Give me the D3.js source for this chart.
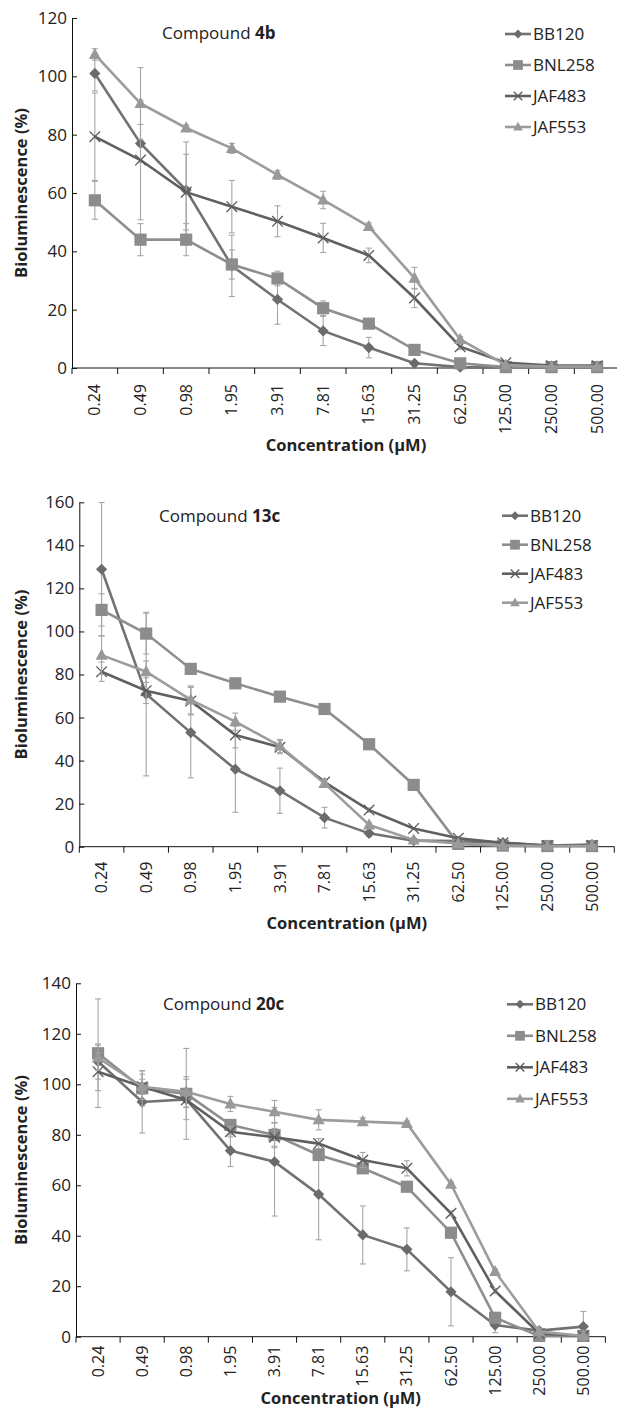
<!DOCTYPE html>
<html>
<head>
<meta charset="utf-8">
<script src="https://cdn.jsdelivr.net/npm/d3@7"></script>
<style>
  body { margin: 0; background: #fff; }
  svg text { font-family: "Open Sans", "Noto Sans", sans-serif; fill: #222; }
</style>
</head>
<body>
<div id="chart"></div>
<script>
// concentrations (µM) on the x axis
const concLabels = ['0.24', '0.49', '0.98', '1.95', '3.91', '7.81', '15.63', '31.25', '62.50', '125.00', '250.00', '500.00'];
const seriesNames = ['BB120', 'BNL258', 'JAF483', 'JAF553'];

// Compound 4b
const bb120_4b = [101, 77, 61, 35, 23.5, 12.7, 7, 1.6, 0.3, 0.2, 0.2, 0.2];
const bb120_4b_err = [6, 6.5, 16.5, 10.5, 8.5, 5, 3.5, 0.5, 0.3, 0.2, 0.2, 0.2];
const bnl258_4b = [57.5, 44, 44, 35.5, 30.7, 20.5, 15.2, 6.2, 1.6, 0.3, 0.3, 0.3];
const bnl258_4b_err = [6.5, 5.5, 5.5, 5, 2.5, 2.5, 1, 0.5, 0.3, 0.2, 0.2, 0.2];
const jaf483_4b = [79.3, 71.3, 60.3, 55.3, 50.3, 44.6, 38.6, 24, 7.3, 1.8, 0.8, 0.8];
const jaf483_4b_err = [15, 20.5, 13, 9, 5.3, 5, 2.5, 3.3, 1, 0.3, 0.2, 0.2];
const jaf553_4b = [107.5, 90.7, 82.3, 75.3, 66.2, 57.6, 48.5, 30.8, 9.8, 1, 0.5, 0.5];
const jaf553_4b_err = [2, 12.3, 1, 1.7, 1.5, 3, 1.3, 3.7, 1, 0.3, 0.2, 0.2];

// Compound 13c
const bb120_13c = [128.9, 70.9, 53, 36, 26, 13.5, 6.2, 2.8, 2.6, 1.9, 0.5, 1];
const bb120_13c_err = [31, 38, 21, 20, 10.5, 4.8, 1.5, 0.5, 0.5, 0.5, 0.3, 0.5];
const bnl258_13c = [110, 99, 82.6, 75.9, 69.7, 64, 47.6, 28.7, 1.3, 0.5, 0.3, 0.3];
const bnl258_13c_err = [7.5, 9.5, 2, 1.5, 1.5, 1, 1, 1, 0.5, 0.3, 0.2, 0.2];
const jaf483_13c = [81.3, 72.5, 67.7, 51.9, 46.2, 30, 17, 8.5, 3.9, 1.8, 0.5, 0.5];
const jaf483_13c_err = [4.5, 6, 6.5, 6, 3, 1.5, 1, 0.5, 0.5, 0.3, 0.2, 0.2];
const jaf553_13c = [89, 81.3, 68.2, 58.1, 46.8, 29.4, 10.1, 3.1, 1.5, 0.5, 0.3, 0.3];
const jaf553_13c_err = [9, 5, 6.5, 4, 3, 1.5, 1, 0.5, 0.3, 0.2, 0.2, 0.2];

// Compound 20c
const bb120_20c = [109, 93, 94, 73.7, 69.3, 56.4, 40.3, 34.6, 17.8, 4.6, 2.4, 4];
const bb120_20c_err = [7, 12.3, 8, 6.3, 21.5, 18, 11.5, 8.5, 13.5, 3, 1, 6];
const bnl258_20c = [112.3, 98.4, 96.2, 83.9, 79.9, 72, 66.7, 59.4, 41.2, 7.5, 0.3, 0.3];
const bnl258_20c_err = [21.5, 7, 18, 2, 5, 2, 2, 1.5, 2, 1.5, 0.3, 0.3];
const jaf483_20c = [105, 99, 93.8, 81.2, 79, 76.5, 70, 66.7, 48.9, 18.1, 1.3, 0.3];
const jaf483_20c_err = [7.5, 5, 3, 2, 3.5, 2, 3, 3, 1, 1, 1, 0.3];
const jaf553_20c = [110.5, 99, 97, 92.2, 89.1, 85.9, 85.2, 84.5, 60.4, 25.8, 2, 0.3];
const jaf553_20c_err = [5, 3, 6, 3, 4.5, 4, 1.5, 1, 1, 1, 1, 0.2];

const compounds = [
    { name: '4b', yMax: 120, values: [bb120_4b, bnl258_4b, jaf483_4b, jaf553_4b], errors: [bb120_4b_err, bnl258_4b_err, jaf483_4b_err, jaf553_4b_err] },
    { name: '13c', yMax: 160, values: [bb120_13c, bnl258_13c, jaf483_13c, jaf553_13c], errors: [bb120_13c_err, bnl258_13c_err, jaf483_13c_err, jaf553_13c_err] },
    { name: '20c', yMax: 140, values: [bb120_20c, bnl258_20c, jaf483_20c, jaf553_20c], errors: [bb120_20c_err, bnl258_20c_err, jaf483_20c_err, jaf553_20c_err] }
];

// panel placement (pixels)
const layout = [
    { left: 72, right: 620, top: 18, bottom: 368, titleX: 162, titleY: 39, legX: 505, legY: 34, legStep: 31, labelGap: 16, xTitleY: 451 },
    { left: 79.3, right: 614.3, top: 502.3, bottom: 846.7, titleX: 159, titleY: 522, legX: 502, legY: 515.7, legStep: 29, labelGap: 15, xTitleY: 929 },
    { left: 76, right: 605.4, top: 983.3, bottom: 1336.7, titleX: 163, titleY: 1010, legX: 507, legY: 1004.3, legStep: 31.5, labelGap: 9, xTitleY: 1404 }
];

const lineColors = ['#727272', '#8e8e8e', '#606060', '#9c9c9c'];
const markColors = ['#6b6b6b', '#8c8c8c', '#5a5a5a', '#999999'];
const errColor = '#a6a6a6';

const markerPaths = [
    s => `M0,${-s}L${s},0L0,${s}L${-s},0Z`,
    s => `M${-s},${-s}H${s}V${s}H${-s}Z`,
    s => `M${-s},${-s}L${s},${s}M${-s},${s}L${s},${-s}`,
    s => `M0,${-s * 1.1}L${s},${s * 0.75}L${-s},${s * 0.75}Z`
];
const markerSize = [5.6, 6.1, 5.3, 6];

const svg = d3.select('#chart').append('svg')
    .attr('width', 617)
    .attr('height', 1423);

function drawMarker(g, k, x, y, s) {
    const p = g.append('path')
        .attr('transform', `translate(${x},${y})`)
        .attr('d', markerPaths[k](s));
    if (k === 2) {
        p.attr('fill', 'none').attr('stroke', markColors[k]).attr('stroke-width', 1.3);
    } else {
        p.attr('fill', markColors[k]);
    }
}

compounds.forEach((c, i) => {
    const L = layout[i];
    const g = svg.append('g');

    const x = d3.scaleBand().domain(concLabels).range([L.left, L.right]);
    const y = d3.scaleLinear().domain([0, c.yMax]).range([L.bottom, L.top]);
    const cx = d => x(d) + x.bandwidth() / 2;

    // y axis, ticks pointing into the plot
    const yAxis = g.append('g')
        .attr('transform', `translate(${L.left},0)`)
        .call(d3.axisLeft(y).ticks(c.yMax / 20).tickSizeInner(-5).tickSizeOuter(0).tickPadding(5));
    yAxis.selectAll('text').style('font-size', '17px').attr('fill', '#222');
    yAxis.selectAll('line, path').attr('stroke', '#111');

    // x axis, ticks between categories
    const xAxis = g.append('g').attr('transform', `translate(0,${L.bottom})`);
    xAxis.append('line')
        .attr('x1', L.left).attr('x2', L.right)
        .attr('stroke', '#111');
    xAxis.selectAll('.tk')
        .data(d3.range(concLabels.length + 1))
        .enter().append('line')
        .attr('x1', k => L.left + k * x.step())
        .attr('x2', k => L.left + k * x.step())
        .attr('y1', 0).attr('y2', 6)
        .attr('stroke', '#111');
    xAxis.selectAll('.lbl')
        .data(concLabels)
        .enter().append('text')
        .attr('transform', d => `translate(${cx(d)},${L.labelGap}) rotate(-90)`)
        .attr('dy', '0.35em')
        .attr('text-anchor', 'end')
        .style('font-size', '16px')
        .text(d => d);

    // axis titles
    g.append('text')
        .attr('transform', `translate(${(L.left + L.right) / 2},${L.xTitleY})`)
        .attr('text-anchor', 'middle')
        .style('font-size', '16.5px')
        .style('font-weight', 'bold')
        .text('Concentration (\u00b5M)');
    g.append('text')
        .attr('transform', `translate(27,${(L.top + L.bottom) / 2}) rotate(-90)`)
        .attr('text-anchor', 'middle')
        .style('font-size', '16.5px')
        .style('font-weight', 'bold')
        .text('Bioluminescence (%)');

    // compound title
    const t = g.append('text')
        .attr('x', L.titleX).attr('y', L.titleY)
        .style('font-size', '17px');
    t.append('tspan').text('Compound ');
    t.append('tspan').style('font-weight', 'bold').text(c.name);

    const line = d3.line()
        .x((v, j) => cx(concLabels[j]))
        .y(v => y(v));

    c.values.forEach((vals, k) => {
        const s = g.append('g');
        s.append('path')
            .attr('d', line(vals))
            .attr('fill', 'none')
            .attr('stroke', lineColors[k])
            .attr('stroke-width', 2.6);

        // error bars
        vals.forEach((v, j) => {
            const e = c.errors[k][j];
            if (e < 0.8) return;
            const px = cx(concLabels[j]);
            const y0 = y(v + e), y1 = y(Math.max(0, v - e));
            s.append('line').attr('x1', px).attr('x2', px).attr('y1', y0).attr('y2', y1)
                .attr('stroke', errColor).attr('stroke-width', 1.1);
            [y0, y1].forEach(yy => {
                s.append('line').attr('x1', px - 3).attr('x2', px + 3).attr('y1', yy).attr('y2', yy)
                    .attr('stroke', errColor).attr('stroke-width', 1.1);
            });
        });

        vals.forEach((v, j) => drawMarker(s, k, cx(concLabels[j]), y(v), markerSize[k]));
    });

    // legend
    seriesNames.forEach((name, k) => {
        const ly = L.legY + k * L.legStep;
        const lg = g.append('g');
        lg.append('line')
            .attr('x1', L.legX).attr('x2', L.legX + 26)
            .attr('y1', ly).attr('y2', ly)
            .attr('stroke', lineColors[k]).attr('stroke-width', 2.6);
        drawMarker(lg, k, L.legX + 13, ly, markerSize[k] * 0.8);
        lg.append('text')
            .attr('x', L.legX + 28).attr('y', ly)
            .attr('dy', '0.36em')
            .style('font-size', '17px')
            .text(name);
    });
});
</script>
</body>
</html>
